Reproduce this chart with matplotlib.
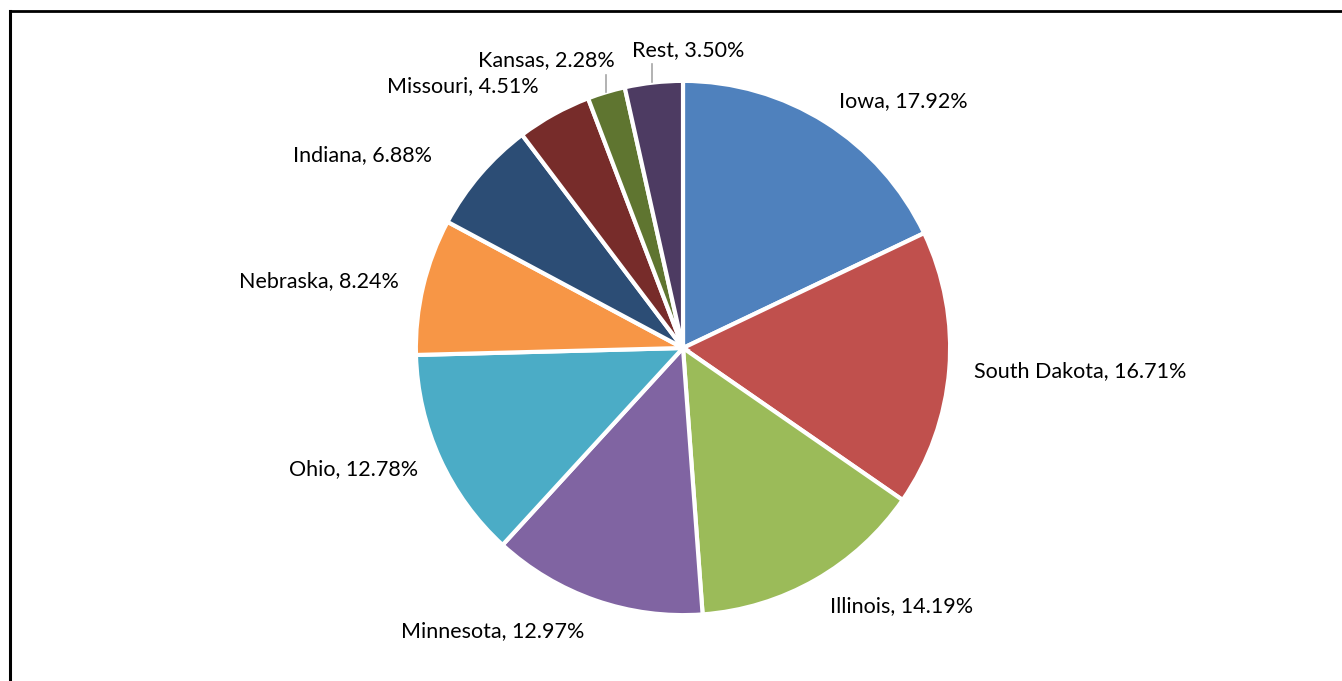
import numpy as np
import matplotlib
matplotlib.use("Agg")
import matplotlib.pyplot as plt
from matplotlib.lines import Line2D

states = ["Iowa", "South Dakota", "Illinois", "Minnesota", "Ohio",
          "Nebraska", "Indiana", "Missouri", "Kansas", "Rest"]
shares = [17.92, 16.71, 14.19, 12.97, 12.78, 8.24, 6.88, 4.51, 2.28, 3.50]
colors = ["#4F81BD", "#C0504D", "#9BBB59", "#8064A2", "#4BACC6",
          "#F79646", "#2C4D75", "#772C2A", "#5F7530", "#4D3B62"]
label_r = [1.10, 1.10, 1.12, 1.13, 1.10, 1.10, 1.12, 1.13, None, None]
label_dx = [0, 0, 0, 0, 0, 0, -0.095, 0, 0, 0]

plt.rcParams['font.family'] = ['Lato', 'DejaVu Sans']

W, H = 1342, 681
cx, cy, R = 683, 348, 265
fig = plt.figure(figsize=(W / 100, H / 100), dpi=100)
ax = fig.add_axes([0, 0, 1, 1])
wedges, _ = ax.pie(shares, colors=colors, startangle=90, counterclock=False,
                   radius=1.008,
                   wedgeprops=dict(edgecolor="white", linewidth=3))
ax.set_xlim(-cx / R, (W - cx) / R)
ax.set_ylim((cy - H) / R, cy / R)
ax.axis('off')

fs = 15.5
total = sum(shares)
cum = 0.0
for i, (s, v) in enumerate(zip(states, shares)):
    mid = 90 - (cum + v / 2) / total * 360
    cum += v
    txt = f"{s}, {v:.2f}%"
    a = np.deg2rad(mid)
    if label_r[i] is None:
        continue
    r = label_r[i]
    x, y = r * np.cos(a) + label_dx[i], r * np.sin(a)
    c = np.cos(a)
    ha = 'left' if c > 0.1 else ('right' if c < -0.1 else 'center')
    ax.text(x, y, txt, ha=ha, va='center', fontsize=fs, color='black')

# Small slices with leader lines
lead_col = "#A6A6A6"
# Kansas
kx = -0.29
ax.plot([kx, kx], [np.sqrt(1 - kx**2) + 0.01, 1.03], color=lead_col, lw=1.2)
ax.text(-0.257, 1.087, f"{states[8]}, {shares[8]:.2f}%", ha='right', va='center',
        fontsize=fs, color='black')
# Rest
rx = -0.117
ax.plot([rx, rx], [np.sqrt(1 - rx**2) + 0.01, 1.07], color=lead_col, lw=1.2)
ax.text(-0.192, 1.125, f"{states[9]}, {shares[9]:.2f}%", ha='left', va='center',
        fontsize=fs, color='black')

# Frame lines (left and top)
fig.add_artist(Line2D([9.5 / W, 9.5 / W], [0, 1 - 10.5 / H], color='black', lw=2.2,
                      transform=fig.transFigure, solid_capstyle='projecting'))
fig.add_artist(Line2D([9.5 / W, 1], [1 - 10.5 / H, 1 - 10.5 / H], color='black', lw=2.0,
                      transform=fig.transFigure, solid_capstyle='projecting'))

fig.savefig("out.png", dpi=100)
